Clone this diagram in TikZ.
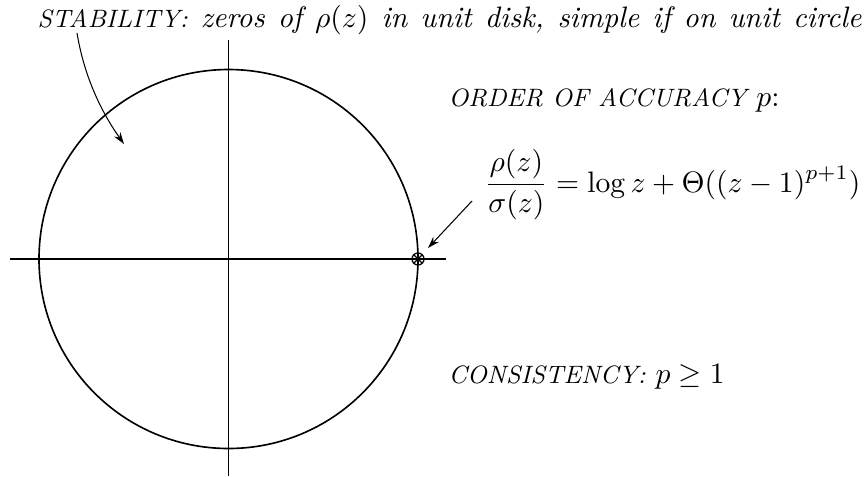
\documentclass[tikz,border=0pt]{standalone}
\usetikzlibrary{arrows.meta,calc}
\newcommand{\capsit}[1]{{\fontsize{8.5}{10}\selectfont\itshape #1}}
\begin{document}
\begin{tikzpicture}[x=0.338pt,y=-0.338pt,
  axisline/.style={line width=0.4pt},
  unitcirc/.style={line width=0.55pt},
  lbl/.style={inner sep=0pt,anchor=base west},
  pointer/.style={line width=0.35pt,-{Stealth[length=4pt,width=2.6pt]}},
  markerc/.style={line width=0.45pt}]
\useasboundingbox (0,0) rectangle (865,476);
% axes and circle
\coordinate (O) at (228.5,259);
\coordinate (vtop) at (228.5,40);
\coordinate (vbot) at (228.5,476);
\coordinate (hleft) at (10,259);
\coordinate (hright) at (446,259);
\draw[axisline] (vtop) -- (vbot);
\draw[axisline] (hleft) -- (hright);
\draw[unitcirc] (O) circle[radius=189.5];
% marker at z=1
\coordinate (one) at (418,259);
\draw[markerc] (one) circle[radius=6];
\draw[markerc] ($(one)+(-4.3,-4.3)$) -- ($(one)+(4.3,4.3)$);
\draw[markerc] ($(one)+(-4.3,4.3)$) -- ($(one)+(4.3,-4.3)$);
% labels
\node[lbl] (stab) at (37,27) {\makebox[278.5pt][s]{\itshape\capsit{STABILITY:} zeros of $\rho(z)$ in unit disk, simple if on unit circle}};
\node[lbl] (order) at (448,106) {\capsit{ORDER OF ACCURACY} $p$:};
\node[inner sep=0pt,anchor=base east] (formula) at (861,192) {$\displaystyle \frac{\rho(z)}{\sigma(z)} = \log z + \Theta((z-1)^{p+1})$};
\node[lbl] (cons) at (448,383) {\capsit{CONSISTENCY:} $p \ge 1$};
% pointers
\coordinate (s1) at (77,33);
\coordinate (e1) at (124,144);
\draw[pointer] (s1) .. controls (84,75) and (100,110) .. (e1);
\coordinate (s2) at (472,201);
\coordinate (e2) at (428,248);
\draw[pointer] (s2) -- (e2);
\end{tikzpicture}
\end{document}
